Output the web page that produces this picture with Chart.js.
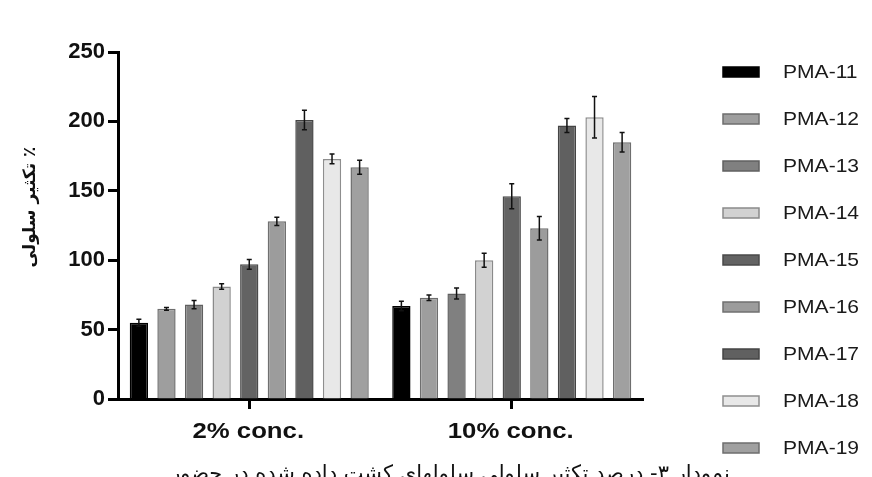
<!DOCTYPE html>
<html>
<head>
<meta charset="utf-8">
<script src="https://cdn.jsdelivr.net/npm/chart.js@4/dist/chart.umd.min.js"></script>
<style>
	html, body { margin: 0; padding: 0; background: #fff; overflow: hidden; }
	#wrap { position: relative; width: 872px; height: 477px; }
	#caption {
		position: absolute; left: 150px; width: 600px; top: 461px;
		font: 21px 'DejaVu Sans', sans-serif; direction: rtl; text-align: center;
		color: #111; white-space: nowrap;
	}
</style>
</head>
<body>
<div id="wrap">
	<canvas id="chart" width="872" height="477"></canvas>
	<div id="caption">نمودار ۳- درصد تکثیر سلولی سلولهای کشت داده شده در حضور</div>
</div>
<script>
const categories = ['2% conc.', '10% conc.'];
const seriesNames = ['PMA-11', 'PMA-12', 'PMA-13', 'PMA-14', 'PMA-15', 'PMA-16', 'PMA-17', 'PMA-18', 'PMA-19'];
const values2 = [55, 65, 68, 81, 97, 128, 201, 173, 167];
const values10 = [67, 73, 76, 100, 146, 123, 197, 203, 185];
const errors2 = [2.5, 1, 3, 2, 3.5, 3, 7, 3.5, 5];
const errors10 = [3.5, 2, 4, 5, 9, 8.5, 5, 15, 7];
const yTicks = [0, 50, 100, 150, 200, 250];

const fills = ['#000000', '#9e9e9e', '#808080', '#d2d2d2', '#636363', '#9c9c9c', '#606060', '#e8e8e8', '#a0a0a0'];
const borders = ['#000000', '#6e6e6e', '#606060', '#8a8a8a', '#4a4a4a', '#707070', '#444444', '#8e8e8e', '#6e6e6e'];
const stretch = 1.17; // the source picture's text is a bit wide

const datasets = seriesNames.map((name, i) => ({
	label: name,
	data: [values2[i], values10[i]],
	errors: [errors2[i], errors10[i]],
	backgroundColor: fills[i],
	borderColor: borders[i],
	borderWidth: 1.5,
	barPercentage: 0.663,
	categoryPercentage: 0.946,
}));

function wideText(ctx, text, x, y) {
	ctx.save();
	ctx.translate(x, y);
	ctx.scale(stretch, 1);
	ctx.fillText(text, 0, 0);
	ctx.restore();
}

const errorBars = {
	id: 'errorBars',
	afterDatasetsDraw(chart) {
		const { ctx } = chart;
		const y = chart.scales.y;
		ctx.save();
		ctx.strokeStyle = '#111';
		ctx.lineWidth = 1.5;
		chart.data.datasets.forEach((ds, i) => {
			chart.getDatasetMeta(i).data.forEach((bar, j) => {
				const v = ds.data[j];
				const e = ds.errors[j];
				const top = y.getPixelForValue(v + e);
				const bottom = y.getPixelForValue(v - e);
				ctx.beginPath();
				ctx.moveTo(bar.x, top);
				ctx.lineTo(bar.x, bottom);
				ctx.moveTo(bar.x - 2.5, top);
				ctx.lineTo(bar.x + 2.5, top);
				ctx.moveTo(bar.x - 2.5, bottom);
				ctx.lineTo(bar.x + 2.5, bottom);
				ctx.stroke();
			});
		});
		ctx.restore();
	},
};

const labelsAndLegend = {
	id: 'labelsAndLegend',
	afterDraw(chart) {
		const { ctx } = chart;
		const x = chart.scales.x;
		ctx.save();
		// category labels
		ctx.font = 'bold 22px "Liberation Sans", Arial, sans-serif';
		ctx.textAlign = 'center';
		ctx.textBaseline = 'alphabetic';
		ctx.fillStyle = '#111';
		chart.data.labels.forEach((label, i) => {
			wideText(ctx, label, x.getPixelForTick(i) - 1, 438);
		});
		// legend
		ctx.font = '18px "Liberation Sans", Arial, sans-serif';
		ctx.textAlign = 'left';
		ctx.textBaseline = 'middle';
		chart.data.datasets.forEach((ds, i) => {
			const cy = 72 + i * 47;
			ctx.fillStyle = ds.backgroundColor;
			ctx.fillRect(723, cy - 5, 36, 10);
			ctx.strokeStyle = ds.borderColor;
			ctx.lineWidth = 1.5;
			ctx.strokeRect(723, cy - 5, 36, 10);
			ctx.fillStyle = '#1a1a1a';
			wideText(ctx, ds.label, 783, cy + 1);
		});
		// y axis title
		ctx.translate(31, 207);
		ctx.rotate(-Math.PI / 2);
		ctx.font = 'bold 17px "DejaVu Sans", sans-serif';
		ctx.direction = 'rtl';
		ctx.textAlign = 'center';
		ctx.fillStyle = '#111';
		ctx.fillText('٪ تکثیر سلولی', 0, 0);
		ctx.restore();
	},
};

new Chart(document.getElementById('chart'), {
	type: 'bar',
	data: { labels: categories, datasets: datasets },
	options: {
		responsive: false,
		animation: false,
		layout: { padding: { top: 52, right: 229, bottom: 32, left: 0 } },
		plugins: { legend: { display: false }, tooltip: { enabled: false } },
		scales: {
			x: {
				grid: { offset: false, drawOnChartArea: false, tickLength: 10, tickWidth: 3, tickColor: '#000' },
				border: { color: '#000', width: 3 },
				ticks: { color: 'rgba(0,0,0,0)', padding: 6, font: { family: '"Liberation Sans", Arial, sans-serif', size: 20, weight: 'bold' } },
			},
			y: {
				min: 0,
				max: 250,
				afterBuildTicks(scale) { scale.ticks = yTicks.map((v) => ({ value: v })); },
				afterFit(scale) { scale.width = 118; },
				grid: { drawOnChartArea: false, tickLength: 10, tickWidth: 3, tickColor: '#000' },
				border: { color: '#000', width: 3 },
				ticks: { color: '#111', padding: 3, font: { family: '"Liberation Sans", Arial, sans-serif', size: 22, weight: 'bold' } },
			},
		},
	},
	plugins: [errorBars, labelsAndLegend],
});
</script>
</body>
</html>
